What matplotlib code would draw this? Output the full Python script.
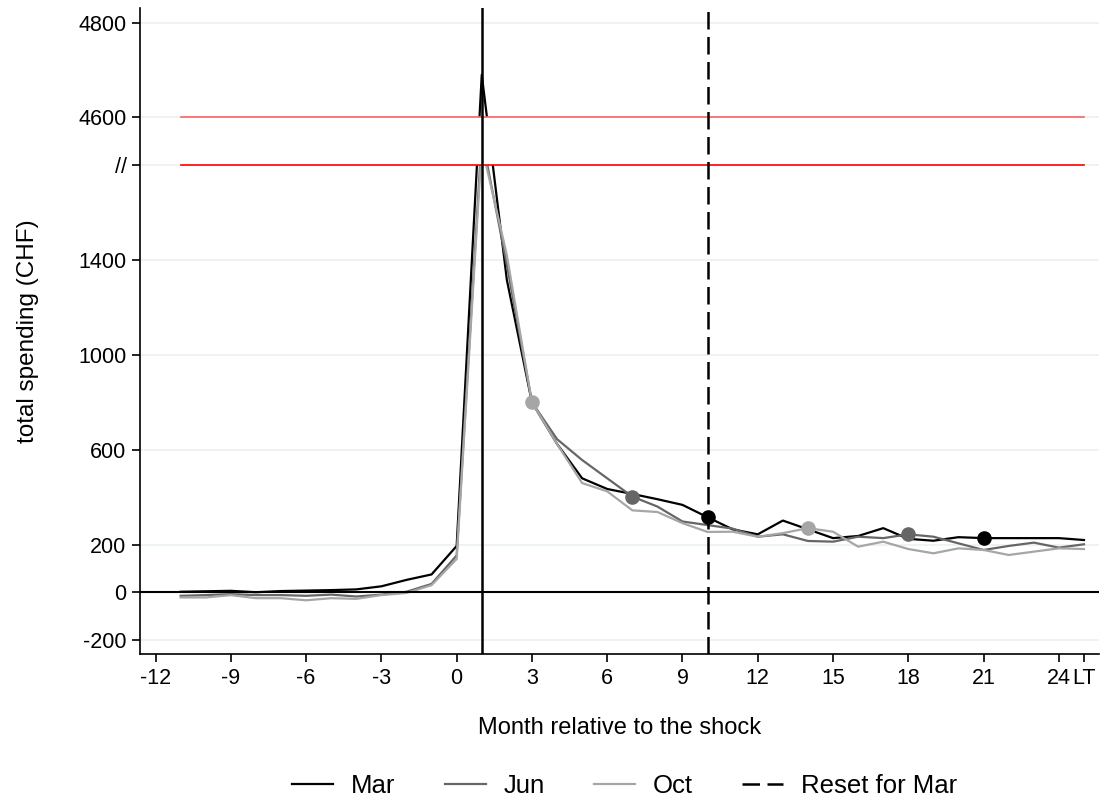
import numpy as np
import matplotlib
matplotlib.use("Agg")
from matplotlib import pyplot as plt

plt.rcParams['font.family'] = ['Liberation Sans', 'DejaVu Sans']

# months relative to the shock, 25 = long term (LT)
months = list(range(-11, 26))

mar = [2, 4, 6, 0, 5, 7, 9, 12, 25, 52, 75, 195, 4690, 1316, 800, 625, 480, 435, 414,
       392, 368, 316, 265, 244, 302, 265, 228, 237, 270, 225, 217, 232, 228, 228, 228, 228, 220]
jun = [-15, -12, -8, -12, -12, -15, -10, -18, -10, 2, 35, 155, 4560, 1380, 800, 645, 557, 480, 403,
       361, 298, 283, 268, 234, 244, 216, 213, 234, 228, 244, 234, 206, 178, 195, 209, 188, 202]
oct_ = [-22, -22, -12, -25, -25, -34, -25, -28, -12, -3, 30, 140, 4540, 1420, 800, 625, 460, 425, 345,
        338, 291, 254, 255, 234, 249, 270, 255, 192, 213, 182, 164, 185, 178, 157, 171, 185, 182]

# highlighted points (month, series)
dots_mar = [10, 21]
dots_jun = [7, 18]
dots_oct = [3, 14]

xticks = [-12, -9, -6, -3, 0, 3, 6, 9, 12, 15, 18, 21, 24, 25]
xticklabels = ['-12', '-9', '-6', '-3', '0', '3', '6', '9', '12', '15', '18', '21', '24', 'LT']
yvals = [-200, 0, 200, 600, 1000, 1400, 4500, 4600, 4800]
ylabels = ['-200', '0', '200', '600', '1000', '1400', '//', '4600', '4800']

shock_month = 1
reset_month = 10


def brk(y):
    # broken axis: lower part as is, upper part stretched above the break
    y = np.asarray(y, dtype=float)
    return np.where(y <= 1800, y, 2000 + 2 * (y - 4600))


c_mar, c_jun, c_oct = 'black', '#666666', '#a6a6a6'

fig = plt.figure(figsize=(11.08, 7.98), dpi=100)
ax = fig.add_axes([0.1268, 0.1805, 0.8651, 0.8091])

for yt in brk(yvals):
    ax.axhline(yt, color='#eaf1f3', lw=1.2, zorder=0)

ax.plot(months, brk(mar), color=c_mar, lw=1.6, zorder=2, label='Mar')
ax.plot(months, brk(jun), color=c_jun, lw=1.6, zorder=2, label='Jun')
ax.plot(months, brk(oct_), color=c_oct, lw=1.6, zorder=2, label='Oct')

# white band hiding the broken part of the axis
ax.fill_between([months[0], months[-1]], 1800, 2000, color='white', zorder=3, lw=0)
ax.plot([months[0], months[-1]], [2000, 2000], color='#ff6060', lw=1.2, zorder=4)
ax.plot([months[0], months[-1]], [1800, 1800], color='red', lw=1.2, zorder=4)

ax.axhline(0, color='black', lw=1.5, zorder=4)
ax.axvline(shock_month, color='black', lw=1.8, zorder=5)
ax.axvline(reset_month, color='black', lw=1.8, ls=(0, (7, 3)), zorder=5, label='Reset for Mar')

for m in dots_mar:
    ax.plot(m, brk(mar[months.index(m)]), 'o', color=c_mar, ms=9.5, zorder=6)
for m in dots_jun:
    ax.plot(m, brk(jun[months.index(m)]), 'o', color=c_jun, ms=9.5, zorder=6)
for m in dots_oct:
    ax.plot(m, brk(oct_[months.index(m)]), 'o', color=c_oct, ms=9.5, zorder=6)

ax.set_xlim(-12.6, 25.6)
ax.set_ylim(-260, 2460)
ax.set_xticks(xticks)
ax.set_xticklabels(xticklabels)
ax.set_yticks(brk(yvals))
ax.set_yticklabels(ylabels)
ax.tick_params(axis='both', labelsize=15.5, length=6, width=1.2, pad=4)
for s in ['top', 'right']:
    ax.spines[s].set_visible(False)
for s in ['left', 'bottom']:
    ax.spines[s].set_linewidth(1.2)

ax.set_xlabel('Month relative to the shock', fontsize=17, labelpad=20)
ax.set_ylabel('total spending (CHF)', fontsize=17.5, labelpad=28)

ax.legend(loc='upper center', bbox_to_anchor=(0.505, -0.15), ncol=4, frameon=False,
          fontsize=18.5, handlelength=1.6, handletextpad=0.7, columnspacing=1.9)

fig.savefig('out.png', dpi=100)
